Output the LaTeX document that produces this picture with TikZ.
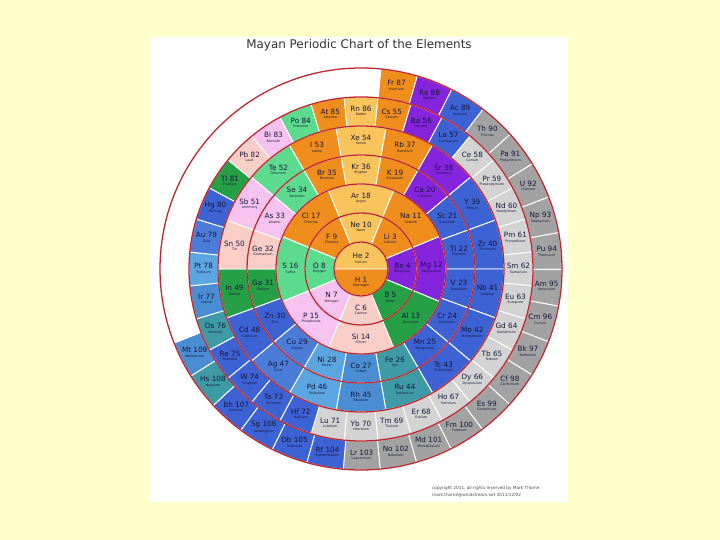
\documentclass[tikz,border=0pt]{standalone}
\usepackage{fontspec}
\setmainfont{DejaVu Sans}
\definecolor{page}{HTML}{FFFFCC}
\definecolor{ink}{HTML}{16163A}
\definecolor{alkali}{HTML}{EF8E1D}
\definecolor{noble}{HTML}{FAC45C}
\definecolor{earth}{HTML}{8424DC}
\definecolor{trans}{HTML}{3D62D4}
\definecolor{coin}{HTML}{4A7CD8}
\definecolor{ferro}{HTML}{3E9BA6}
\definecolor{cobalt}{HTML}{4B8DD2}
\definecolor{nickel}{HTML}{5BA5E0}
\definecolor{boron}{HTML}{26A047}
\definecolor{carbon}{HTML}{F9CEC6}
\definecolor{pnict}{HTML}{F6C2EF}
\definecolor{chalc}{HTML}{5CDB8E}
\definecolor{lanth}{HTML}{D3D3D3}
\definecolor{actin}{HTML}{A2A2A2}
\definecolor{ringline}{HTML}{C0262D}

\begin{document}
\begin{tikzpicture}[x=0.03cm,y=0.03cm,line join=round,
  sym/.style={font=\fontsize{6.2}{7}\selectfont,text=ink,inner sep=0pt,yshift=2.6pt},
  nam/.style={font=\fontsize{2.8}{3}\selectfont,text=ink,inner sep=0pt,yshift=-2.6pt}]
  \useasboundingbox (0,0) rectangle (720,540);
  \fill[page] (0,0) rectangle (720,540);
  \fill[white] (150,38) rectangle (568,503);
  \node[font=\fontsize{10.2}{12}\selectfont,text=black!80] (title) at (359,495) {Mayan Periodic Chart of the Elements};
  \node[font=\fontsize{3.6}{4}\selectfont,text=black!70,anchor=west] (copy1) at (428,52) {copyright 2011, all rights reserved by Mark Thorne};
  \node[font=\fontsize{3.6}{4}\selectfont,text=black!70,anchor=west] (copy2) at (428,45) {mark.thorne@windstream.net 2011/12/02};

  % One cell of a ring: r in, r out, mid angle, half width, colour, symbol, Z, name.
  \newcommand{\cell}[8]{%
    \filldraw[fill=#5,draw=white,line width=0.8pt]
      ({#3-#4}:#1) arc[start angle={#3-#4},end angle={#3+#4},radius=#1]
      -- ({#3+#4}:#2) arc[start angle={#3+#4},end angle={#3-#4},radius=#2] -- cycle;
    \node[sym] (el#7) at (#3:{(#1+#2)/2}) {#6 #7};
    \node[nam] (nm#7) at (#3:{(#1+#2)/2}) {#8};}

  \begin{scope}[shift={(361,271)}]
    % Centre: hydrogen and helium.
    \filldraw[fill=noble,draw=white,line width=0.8pt] (0:27) arc[start angle=0,end angle=180,radius=27] -- cycle;
    \filldraw[fill=alkali,draw=white,line width=0.8pt] (180:27) arc[start angle=180,end angle=360,radius=27] -- cycle;
    \node[sym] (el2) at (0,10) {He 2};
    \node[nam] (nm2) at (0,10) {Helium};
    \node[sym] (el1) at (0,-14) {H 1};
    \node[nam] (nm1) at (0,-14) {Hydrogen};

    % Second and third rings, eight cells each.
    \foreach \z/\s/\nm/\c in {3/Li/Lithium/alkali,4/Be/Beryllium/earth,5/B/Boron/boron,
      6/C/Carbon/carbon,7/N/Nitrogen/pnict,8/O/Oxygen/chalc,9/F/Fluorine/alkali,10/Ne/Neon/noble}{
      \pgfmathsetmacro{\a}{45-45*(\z-3)}
      \cell{27}{56}{\a}{22.5}{\c}{\s}{\z}{\nm}
    }
    \foreach \z/\s/\nm/\c in {11/Na/Sodium/alkali,12/Mg/Magnesium/earth,13/Al/Aluminum/boron,
      14/Si/Silicon/carbon,15/P/Phosphorus/pnict,16/S/Sulfur/chalc,17/Cl/Chlorine/alkali,18/Ar/Argon/noble}{
      \pgfmathsetmacro{\a}{45-45*(\z-11)}
      \cell{56}{85}{\a}{22.5}{\c}{\s}{\z}{\nm}
    }

    % Fourth and fifth rings, eighteen cells each.
    \foreach \z/\s/\nm/\c in {19/K/Potassium/alkali,20/Ca/Calcium/earth,21/Sc/Scandium/trans,
      22/Ti/Titanium/trans,23/V/Vanadium/trans,24/Cr/Chromium/trans,25/Mn/Manganese/trans,
      26/Fe/Iron/ferro,27/Co/Cobalt/cobalt,28/Ni/Nickel/nickel,29/Cu/Copper/coin,30/Zn/Zinc/trans,
      31/Ga/Gallium/boron,32/Ge/Germanium/carbon,33/As/Arsenic/pnict,34/Se/Selenium/chalc,
      35/Br/Bromine/alkali,36/Kr/Krypton/noble}{
      \pgfmathsetmacro{\a}{70-20*(\z-19)}
      \cell{85}{114}{\a}{10}{\c}{\s}{\z}{\nm}
    }
    \foreach \z/\s/\nm/\c in {37/Rb/Rubidium/alkali,38/Sr/Strontium/earth,39/Y/Yttrium/trans,
      40/Zr/Zirconium/trans,41/Nb/Niobium/trans,42/Mo/Molybdenum/trans,43/Tc/Technetium/trans,
      44/Ru/Ruthenium/ferro,45/Rh/Rhodium/cobalt,46/Pd/Palladium/nickel,47/Ag/Silver/coin,48/Cd/Cadmium/trans,
      49/In/Indium/boron,50/Sn/Tin/carbon,51/Sb/Antimony/pnict,52/Te/Tellurium/chalc,
      53/I/Iodine/alkali,54/Xe/Xenon/noble}{
      \pgfmathsetmacro{\a}{70-20*(\z-37)}
      \cell{114}{143}{\a}{10}{\c}{\s}{\z}{\nm}
    }

    % Sixth ring, thirty-two cells.
    \foreach \z/\s/\nm/\c in {55/Cs/Cesium/alkali,56/Ba/Barium/earth,57/La/Lanthanum/trans,
      58/Ce/Cerium/lanth,59/Pr/Praseodymium/lanth,60/Nd/Neodymium/lanth,61/Pm/Promethium/lanth,
      62/Sm/Samarium/lanth,63/Eu/Europium/lanth,64/Gd/Gadolinium/lanth,65/Tb/Terbium/lanth,
      66/Dy/Dysprosium/lanth,67/Ho/Holmium/lanth,68/Er/Erbium/lanth,69/Tm/Thulium/lanth,
      70/Yb/Ytterbium/lanth,71/Lu/Lutetium/lanth,72/Hf/Hafnium/trans,73/Ta/Tantalum/trans,
      74/W/Tungsten/trans,75/Re/Rhenium/trans,76/Os/Osmium/ferro,77/Ir/Iridium/cobalt,
      78/Pt/Platinum/nickel,79/Au/Gold/coin,80/Hg/Mercury/trans,81/Tl/Thallium/boron,
      82/Pb/Lead/carbon,83/Bi/Bismuth/pnict,84/Po/Polonium/chalc,85/At/Astatine/alkali,86/Rn/Radon/noble}{
      \pgfmathsetmacro{\a}{78.75-11.25*(\z-55)}
      \cell{143}{172}{\a}{5.625}{\c}{\s}{\z}{\nm}
    }

    % Seventh ring, open at the upper left.
    \foreach \z/\s/\nm/\c in {87/Fr/Francium/alkali,88/Ra/Radium/earth,89/Ac/Actinium/trans,
      90/Th/Thorium/actin,91/Pa/Protactinium/actin,92/U/Uranium/actin,93/Np/Neptunium/actin,
      94/Pu/Plutonium/actin,95/Am/Americium/actin,96/Cm/Curium/actin,97/Bk/Berkelium/actin,
      98/Cf/Californium/actin,99/Es/Einsteinium/actin,100/Fm/Fermium/actin,101/Md/Mendelevium/actin,
      102/No/Nobelium/actin,103/Lr/Lawrencium/actin,104/Rf/Rutherfordium/trans,105/Db/Dubnium/trans,
      106/Sg/Seaborgium/trans,107/Bh/Bohrium/trans,108/Hs/Hassium/ferro,109/Mt/Meitnerium/cobalt}{
      \pgfmathsetmacro{\a}{79-10.55*(\z-87)}
      \cell{172}{201}{\a}{5.275}{\c}{\s}{\z}{\nm}
    }

    % Red ring lines.
    \foreach \r in {27,56,85,114,143,172,201}{
      \draw[ringline,line width=1.1pt] (0,0) circle[radius=\r];
    }
  \end{scope}
\end{tikzpicture}
\end{document}
